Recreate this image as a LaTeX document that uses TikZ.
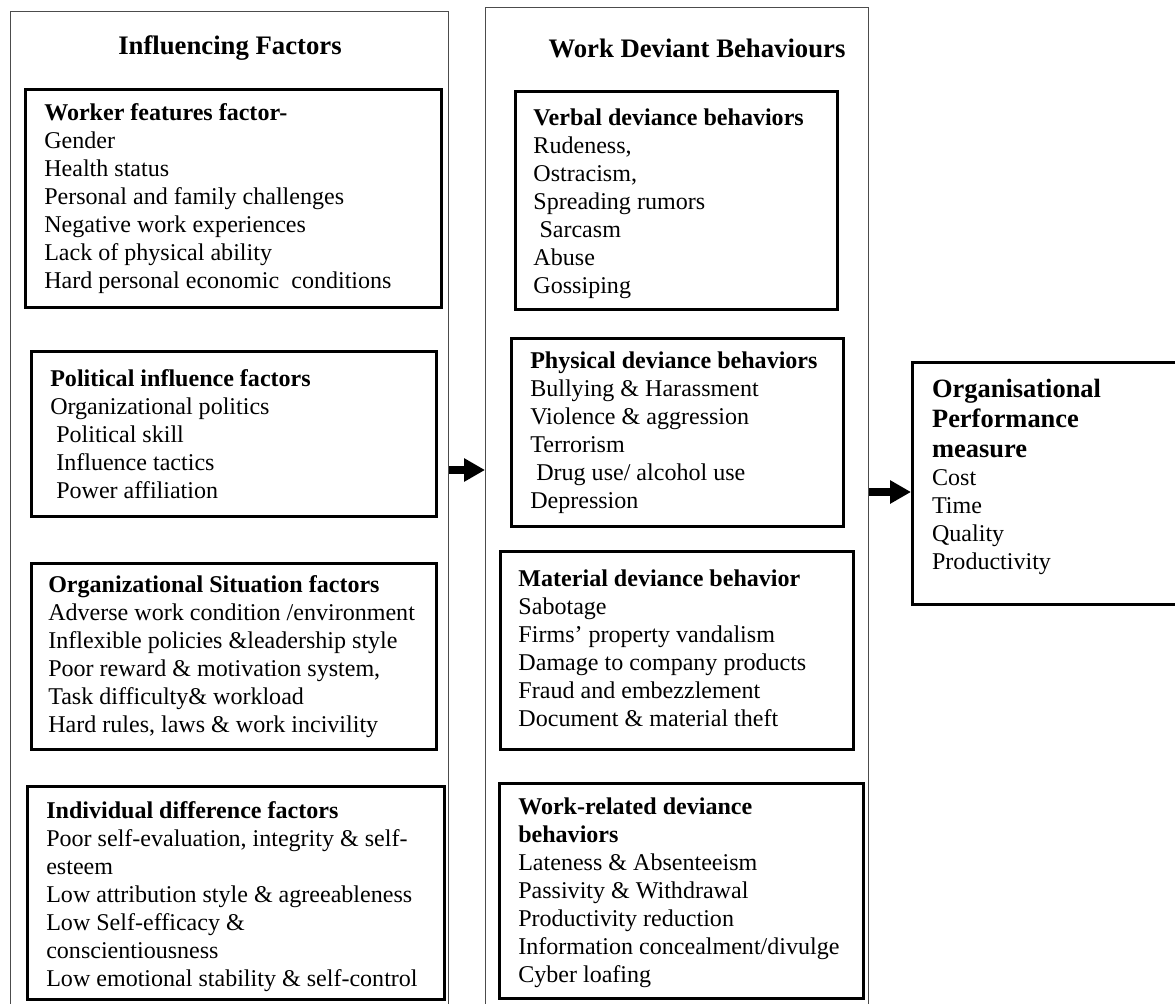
\documentclass[tikz,border=0pt]{standalone}
\usepackage{fontspec}
\setmainfont{Liberation Serif}
\usetikzlibrary{arrows.meta}
\usetikzlibrary{positioning}

\begin{document}
\begin{tikzpicture}[x=0.025cm,y=-0.025cm]
\tikzstyle{column}=[draw=black!70, line width=0.7pt, rectangle, anchor=north west, inner sep=0pt]
\tikzstyle{head}=[font=\fontsize{19}{22}\selectfont\bfseries]
\tikzstyle{box}=[draw, line width=2pt, rectangle, anchor=north west, inner sep=0pt]
\tikzstyle{list}=[align=left, inner sep=0pt, font=\fontsize{17.1}{19.92}\selectfont]
\tikzstyle{flow}=[line width=5pt, -{Triangle[length=0.52cm,width=0.55cm]}]

\useasboundingbox (0,0) rectangle (1175,1004);
\clip (0,0) rectangle (1175,1004);

% the two columns, open at the bottom
\node (infl) [column, minimum width=10.95cm, minimum height=25.475cm] at (10,11) {};
\node (dev) [column, minimum width=9.575cm, minimum height=25.575cm] at (485,7) {};

\node (inflTitle) [head] at (230,48) {Influencing Factors};
\node (devTitle) [head] at (697,48) {Work Deviant Behaviours};

% influencing factors
\node (worker) [box, minimum width=10.4cm, minimum height=5.45cm] at (24,88) {};
\node (workerList) [list, right=0.5cm of worker.west] {\textbf{Worker features factor-}\\Gender\\Health status\\Personal and family challenges\\Negative work experiences\\Lack of physical ability\\Hard personal economic\ \ conditions};

\node (political) [box, minimum width=10.125cm, minimum height=4.125cm] at (30,350) {};
\node (politicalList) [list, right=0.5cm of political.west] {\textbf{Political influence factors}\\Organizational politics\\\ Political skill\\\ Influence tactics\\\ Power affiliation};

\node (situation) [box, minimum width=10.125cm, minimum height=4.65cm] at (30,562) {};
\node (situationList) [list, right=0.45cm of situation.west] {\textbf{Organizational Situation factors}\\Adverse work condition /environment\\Inflexible policies \&leadership style\\Poor reward \& motivation system,\\Task difficulty\& workload\\Hard rules, laws \& work incivility};

\node (individual) [box, minimum width=10.425cm, minimum height=5.325cm] at (26,785) {};
\node (individualList) [list, right=0.5cm of individual.west, yshift=-0.1cm] {\textbf{Individual difference factors}\\Poor self-evaluation, integrity \& self-\\esteem\\Low attribution style \& agreeableness\\Low Self-efficacy \&\\conscientiousness\\Low emotional stability \& self-control};

% deviant behaviours
\node (verbal) [box, minimum width=8.05cm, minimum height=5.45cm] at (514,90) {};
\node (verbalList) [list, right=0.48cm of verbal.west, yshift=-0.08cm] {\textbf{Verbal deviance behaviors}\\Rudeness,\\Ostracism,\\Spreading rumors\\\ Sarcasm\\Abuse\\Gossiping};

\node (physical) [box, minimum width=8.3cm, minimum height=4.7cm] at (510,337) {};
\node (physicalList) [list, right=0.5cm of physical.west] {\textbf{Physical deviance behaviors}\\Bullying \& Harassment\\Violence \& aggression\\Terrorism\\\ Drug use/ alcohol use\\Depression};

\node (material) [box, minimum width=8.825cm, minimum height=4.95cm] at (499,550) {};
\node (materialList) [list, right=0.48cm of material.west, yshift=0.06cm] {\textbf{Material deviance behavior}\\Sabotage\\Firms’ property vandalism\\Damage to company products\\Fraud and embezzlement\\Document \& material theft};

\node (workrel) [box, minimum width=9.1cm, minimum height=5.375cm] at (498,782) {};
\node (workrelList) [list, right=0.5cm of workrel.west, yshift=-0.04cm] {\textbf{Work-related deviance}\\\textbf{behaviors}\\Lateness \& Absenteeism\\Passivity \& Withdrawal\\Productivity reduction\\Information concealment/divulge\\Cyber loafing};

% performance
\node (perf) [box, minimum width=7cm, minimum height=6.05cm] at (911,361) {};
\node (perfList) [list, right=0.52cm of perf.west, yshift=0.17cm] {{\fontsize{18.8}{21.3}\selectfont\bfseries Organisational}\\[1.4pt]{\fontsize{18.8}{21.3}\selectfont\bfseries Performance}\\[1.4pt]{\fontsize{18.8}{21.3}\selectfont\bfseries measure}\\Cost\\Time\\Quality\\Productivity};

\coordinate (a1) at (0,470);
\coordinate (a2) at (0,492);
\draw[flow] (infl.east |- a1) -- (dev.west |- a1);
\draw[flow] (dev.east |- a2) -- (perf.west |- a2);

\end{tikzpicture}
\end{document}
